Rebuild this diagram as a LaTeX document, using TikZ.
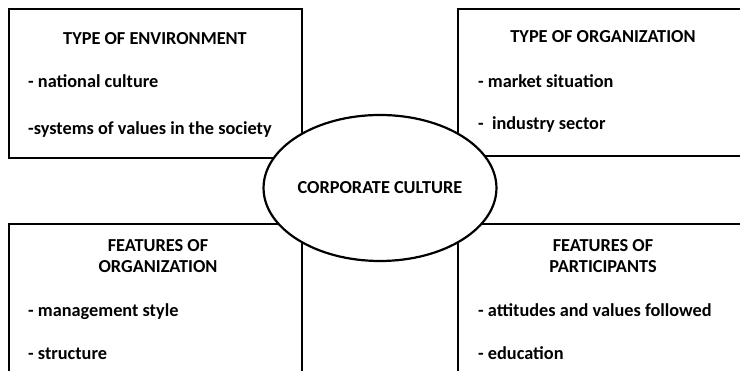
\documentclass[tikz,border=0pt]{standalone}
\usepackage{fontspec}
\setmainfont{Carlito}
\usetikzlibrary{positioning, shapes.geometric}
\tikzset{
    factor/.style={rectangle, draw=black, line width=2.4pt, fill=white, anchor=north west, inner sep=0pt},
    heading/.style={font=\bfseries\fontsize{18.3}{21}\selectfont, align=center, anchor=base, inner sep=0pt},
    item/.style={font=\bfseries\fontsize{18.3}{21}\selectfont, anchor=base west, inner sep=0pt},
    core/.style={ellipse, draw=black, line width=2.2pt, fill=white, minimum width=231pt, minimum height=146pt, font=\bfseries\fontsize{18.3}{21}\selectfont, inner sep=0pt}
}
\begin{document}
\begin{tikzpicture}[x=1pt, y=1pt]
        \useasboundingbox (0,0) rectangle (740,371);

        % the four groups of factors
        \node[factor, minimum width=293pt, minimum height=149pt] (envbox) at (8,363) {};
        \node[factor, minimum width=300pt, minimum height=147pt] (orgbox) at (457,363) {};
        \node[factor, minimum width=293pt, minimum height=160pt] (featorg) at (8,148) {};
        \node[factor, minimum width=300pt, minimum height=160pt] (featpart) at (457,148) {};

        \node[heading] (envhead) at (155,326) {TYPE OF ENVIRONMENT};
        \node[item] (envA) at (28,283) {- national culture};
        \node[item] (envB) at (28,236) {-systems of values in the society};

        \node[heading] (orghead) at (603,328) {TYPE OF ORGANIZATION};
        \node[item] (orgA) at (478,283) {- market situation};
        \node[item] (orgB) at (478,241) {-\ \ industry sector};

        \node[heading] (featorghead) at (158,119) {FEATURES OF};
        \node[heading, below=21pt of featorghead.base, anchor=base] (featorghead2) {ORGANIZATION};
        \node[item] (featorgA) at (28,54) {- management style};
        \node[item] (featorgB) at (28,11) {- structure};

        \node[heading] (featparthead) at (603,119) {FEATURES OF};
        \node[heading, below=21pt of featparthead.base, anchor=base] (featparthead2) {PARTICIPANTS};
        \node[item] (featpartA) at (478,54) {- attitudes and values followed};
        \node[item] (featpartB) at (478,11) {- education};

        % centre
        \node[core] (culture) at (380,183) {CORPORATE CULTURE};
    \end{tikzpicture}
\end{document}
